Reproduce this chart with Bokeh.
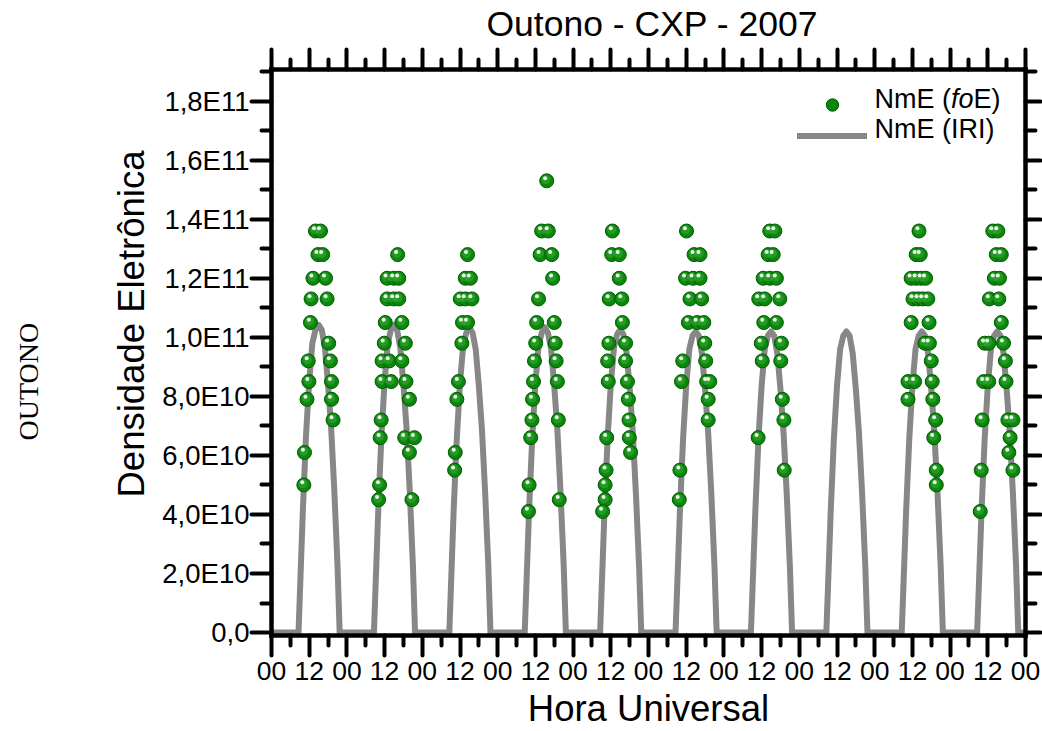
from bokeh.plotting import figure
from bokeh.models import (Range1d, FixedTicker, LinearAxis, Label, Legend, LegendItem,
                          ColumnDataSource, Title)
from bokeh.transform import dodge
from bokeh.embed import file_html
from bokeh.resources import INLINE

# ---------------- data (NmE in units of 1E10 el/m3, time in UT hours) ----------------
n_days = 10
x_tick_values = list(range(0, 241, 12))
x_tick_labels = ["00", "12"] * 10 + ["00"]
x_minor_ticks = list(range(6, 240, 12))
y_tick_values = [0, 2, 4, 6, 8, 10, 12, 14, 16, 18]
y_tick_labels = ["0,0", "2,0E10", "4,0E10", "6,0E10", "8,0E10",
                 "1,0E11", "1,2E11", "1,4E11", "1,6E11", "1,8E11"]
y_minor_ticks = [1, 3, 5, 7, 9, 11, 13, 15, 17, 19]

# NmE (foE) observations, per day: UT hour and value
foe_ut = [
    [14.0, 15.6, 14.8, 16.3, 13.2, 17.2, 12.6, 17.7, 12.4, 18.2, 11.7, 18.75, 11.9, 19.1, 11.3, 19.1, 19.6, 10.5, 10.3],
    [16.15, 12.8, 14.9, 16.5, 12.8, 14.9, 16.5, 12.2, 17.5, 11.9, 18.6, 11.2, 13.5, 17.5, 11.2, 14.1, 18.8, 19.9, 10.9, 10.6, 18.4, 21.5, 19.9, 10.4, 10.1, 20.7],
    [14.4, 13.7, 15.3, 12.1, 13.7, 15.8, 12.8, 14.4, 12.6, 11.5, 11.0, 10.5, 10.3],
    [15.6, 14.0, 16.1, 13.5, 17.2, 17.5, 13.0, 12.4, 18.0, 12.1, 18.3, 11.7, 18.6, 11.4, 19.0, 11.1, 10.9, 19.3, 10.5, 10.0, 19.6, 9.8],
    [12.5, 12.3, 14.7, 14.7, 11.5, 15.5, 15.7, 11.4, 16.7, 11.0, 16.7, 11.2, 17.3, 17.6, 17.8, 10.7, 17.9, 18.3, 10.5, 10.2, 10.2, 9.4],
    [12.1, 14.5, 16.4, 11.8, 14.2, 16.4, 13.2, 16.9, 12.7, 15.5, 17.6, 17.9, 10.9, 18.2, 10.5, 18.5, 19.5, 19.0, 19.0, 10.0, 9.8],
    [14.6, 16.2, 14.1, 15.7, 12.5, 14.6, 16.7, 11.1, 13.0, 17.8, 12.7, 16.7, 11.9, 18.3, 12.2, 18.1, 18.6, 19.1, 10.9, 19.2],
    [],
    [14.1, 13.2, 14.5, 11.6, 13.2, 14.8, 16.2, 12.2, 13.8, 15.3, 16.9, 11.6, 17.3, 16.0, 17.4, 18.0, 10.6, 12.7, 18.3, 10.6, 18.5, 19.4, 18.8, 19.6, 19.6],
    [13.6, 15.2, 14.7, 16.3, 14.1, 15.7, 12.5, 15.5, 16.3, 11.0, 12.3, 17.0, 17.6, 10.7, 12.3, 17.8, 10.2, 18.4, 20.0, 19.1, 18.7, 9.9, 20.0, 9.6],
]
foe_nme = [
    [13.6, 13.6, 12.8, 12.8, 12.0, 12.0, 11.3, 11.3, 10.5, 9.8, 9.2, 9.2, 8.5, 8.5, 7.9, 7.9, 7.2, 6.1, 5.0],
    [12.8, 12.0, 12.0, 12.0, 11.3, 11.3, 11.3, 10.5, 10.5, 9.8, 9.8, 9.2, 9.2, 9.2, 8.5, 8.5, 8.5, 7.9, 7.2, 6.6, 6.6, 6.6, 6.1, 5.0, 4.5, 4.5],
    [12.8, 12.0, 12.0, 11.3, 11.3, 11.3, 10.5, 10.5, 9.8, 8.5, 7.9, 6.1, 5.5],
    [15.3, 13.6, 13.6, 12.8, 12.8, 12.0, 11.3, 10.5, 10.5, 9.8, 9.8, 9.2, 9.2, 8.5, 8.5, 7.9, 7.2, 7.2, 6.6, 5.0, 4.5, 4.1],
    [13.6, 12.8, 12.8, 12.0, 11.3, 11.3, 10.5, 9.8, 9.8, 9.2, 9.2, 8.5, 8.5, 7.9, 7.2, 6.6, 6.6, 6.1, 5.5, 5.0, 4.5, 4.1],
    [13.6, 12.8, 12.8, 12.0, 12.0, 12.0, 11.3, 11.3, 10.5, 10.5, 10.5, 9.8, 9.2, 9.2, 8.5, 8.5, 8.5, 7.9, 7.2, 5.5, 4.5],
    [13.6, 13.6, 12.8, 12.8, 12.0, 12.0, 12.0, 11.3, 11.3, 11.3, 10.5, 10.5, 9.8, 9.8, 9.2, 9.2, 7.9, 7.2, 6.6, 5.5],
    [],
    [13.6, 12.8, 12.8, 12.0, 12.0, 12.0, 12.0, 11.3, 11.3, 11.3, 11.3, 10.5, 10.5, 9.8, 9.8, 9.2, 8.5, 8.5, 8.5, 7.9, 7.9, 7.2, 6.6, 5.5, 5.0],
    [13.6, 13.6, 12.8, 12.8, 12.0, 12.0, 11.3, 11.3, 10.5, 9.8, 9.8, 9.8, 9.2, 8.5, 8.5, 8.5, 7.2, 7.2, 7.2, 6.6, 6.1, 5.5, 5.5, 4.1],
]

# NmE (IRI) daily profile, read at these UT hours for each day
iri_ut = [8.6, 9, 10, 11, 12, 13, 14, 15, 16, 17, 18, 19, 20, 21, 21.7]
iri_nme = [
    [0, 1.2, 4.2, 6.7, 8.5, 9.8, 10.25, 10.42, 10.25, 9.65, 8.4, 6.9, 4.8, 2.3, 0],
    [0, 1.2, 4.2, 6.7, 8.5, 9.8, 10.25, 10.42, 10.25, 9.65, 8.4, 6.9, 4.8, 2.3, 0],
    [0, 1.2, 4.2, 6.6, 8.45, 9.7, 10.15, 10.34, 10.15, 9.6, 8.35, 6.85, 4.75, 2.3, 0],
    [0, 1.2, 4.2, 6.6, 8.45, 9.7, 10.15, 10.34, 10.15, 9.6, 8.35, 6.85, 4.75, 2.3, 0],
    [0, 1.2, 4.15, 6.6, 8.4, 9.65, 10.1, 10.26, 10.1, 9.5, 8.3, 6.8, 4.7, 2.25, 0],
    [0, 1.15, 4.1, 6.55, 8.35, 9.6, 10.05, 10.2, 10.05, 9.45, 8.25, 6.75, 4.7, 2.25, 0],
    [0, 1.15, 4.1, 6.55, 8.35, 9.6, 10.05, 10.2, 10.05, 9.45, 8.25, 6.75, 4.7, 2.25, 0],
    [0, 1.15, 4.1, 6.55, 8.35, 9.6, 10.05, 10.2, 10.05, 9.45, 8.25, 6.75, 4.7, 2.25, 0],
    [0, 1.15, 4.1, 6.55, 8.35, 9.6, 10.05, 10.2, 10.05, 9.45, 8.25, 6.75, 4.7, 2.25, 0],
    [0, 1.15, 4.1, 6.55, 8.35, 9.6, 10.05, 10.2, 10.05, 9.45, 8.25, 6.75, 4.7, 2.25, 0],
]

# ---------------- build sources ----------------
fx, fy = [], []
for d in range(n_days):
    for h, v in zip(foe_ut[d], foe_nme[d]):
        fx.append(24 * d + h)
        fy.append(v)
foe_src = ColumnDataSource(dict(x=fx, y=fy))

ix, iy = [0.0], [0.0]
for d in range(n_days):
    for h, v in zip(iri_ut, iri_nme[d]):
        ix.append(24 * d + h)
        iy.append(v)
ix.append(24.0 * n_days)
iy.append(0.0)
iri_src = ColumnDataSource(dict(x=ix, y=iy))

# ---------------- figure ----------------
FONT = "Liberation Sans"
p = figure(width=1042, height=731,
           x_range=Range1d(0, 240), y_range=Range1d(-0.1, 19.07),
           output_backend="svg", toolbar_location=None,
           title="Outono - CXP - 2007",
           min_border_left=271, min_border_right=17, min_border_top=68, min_border_bottom=96)
p.xgrid.visible = False
p.ygrid.visible = False
p.outline_line_color = None
p.background_fill_color = "white"
p.border_fill_color = "white"

p.title.align = "left"
p.title.offset = 215
p.title.vertical_align = "top"
p.title.standoff = 7
p.title.text_font = FONT
p.title.text_font_size = "35.5px"
p.title.text_font_style = "normal"
p.title.text_color = "black"

xticker = FixedTicker(ticks=x_tick_values, minor_ticks=x_minor_ticks)
yticker = FixedTicker(ticks=y_tick_values, minor_ticks=y_minor_ticks)


def style_axis(ax, major_out=20, minor_out=10):
    ax.axis_line_width = 4.5
    ax.axis_line_color = "black"
    ax.axis_line_cap = "square"
    ax.major_tick_line_width = 4
    ax.minor_tick_line_width = 4
    ax.major_tick_line_color = "black"
    ax.minor_tick_line_color = "black"
    ax.major_tick_line_cap = "round"
    ax.minor_tick_line_cap = "round"
    ax.major_tick_in = 0
    ax.minor_tick_in = 0
    ax.major_tick_out = major_out
    ax.minor_tick_out = minor_out
    ax.major_label_text_color = "black"
    ax.major_label_text_font = FONT


xa = p.xaxis[0]
xa.ticker = xticker
style_axis(xa)
xa.major_label_overrides = {t: s for t, s in zip(x_tick_values, x_tick_labels)}
xa.major_label_text_font_size = "26.5px"
xa.major_label_standoff = 6
xa.axis_label = "Hora Universal"
xa.axis_label_text_font = FONT
xa.axis_label_text_font_size = "36.5px"
xa.axis_label_text_font_style = "normal"
xa.axis_label_text_color = "black"
xa.axis_label_standoff = 5

ya = p.yaxis[0]
ya.ticker = yticker
style_axis(ya)
ya.major_label_overrides = {t: s for t, s in zip(y_tick_values, y_tick_labels)}
ya.major_label_text_font_size = "27.5px"
ya.major_label_standoff = 2

top = LinearAxis(ticker=xticker)
style_axis(top)
top.major_label_text_font_size = "1px"
top.major_label_text_color = None
top.major_label_standoff = 0
p.add_layout(top, "above")

right = LinearAxis(ticker=yticker)
style_axis(right, major_out=15, minor_out=10)
right.major_label_text_font_size = "1px"
right.major_label_text_color = None
right.major_label_standoff = 0
p.add_layout(right, "right")

# side titles (y label and season tag), with a blank spacer axis between them
p.add_layout(Title(text="Densidade Eletrônica", align="left", offset=138, standoff=16,
                   vertical_align="bottom",
                   text_font=FONT, text_font_size="36.5px", text_font_style="normal",
                   text_color="black"), "left")
spacer = LinearAxis(ticker=FixedTicker(ticks=[0], minor_ticks=[]), axis_line_color="white",
                    axis_line_width=1,
                    major_tick_out=52, major_tick_in=0, minor_tick_out=0, minor_tick_in=0,
                    major_tick_line_color="white", major_tick_line_width=1,
                    minor_tick_line_color="white",
                    major_label_standoff=0, major_label_text_font_size="1px",
                    major_label_text_color=None)
p.add_layout(spacer, "left")
p.add_layout(Title(text="OUTONO", align="left", offset=195, standoff=10,
                   vertical_align="bottom",
                   text_font="Liberation Serif", text_font_size="28px",
                   text_font_style="normal", text_color="black"), "left")

# ---------------- glyphs ----------------
r_iri = p.line("x", "y", source=iri_src, line_color="#878787", line_width=6,
               line_join="round", line_cap="round")

r_foe = p.scatter("x", "y", source=foe_src, size=14, fill_color="#0b870b",
                  line_color="#005a00", line_width=1)
p.scatter(dodge("x", -0.25), dodge("y", 0.04), source=foe_src, size=9,
          fill_color="#35a835", fill_alpha=0.6, line_color=None)
p.scatter(dodge("x", -0.5), dodge("y", 0.09), source=foe_src, size=4,
          fill_color="white", fill_alpha=0.9, line_color=None)

# ---------------- legend ----------------
legend = Legend(items=[LegendItem(label=" ", renderers=[r_foe]),
                       LegendItem(label=" ", renderers=[r_iri])],
                location=(526, 484), glyph_width=70, glyph_height=31, spacing=0,
                padding=0, margin=0, label_standoff=0, label_width=0, label_height=31,
                label_text_font_size="1px", label_text_color=None,
                border_line_color=None, background_fill_alpha=0)
p.add_layout(legend)

LEG = "27px"
p.add_layout(Label(x=603, y=521.7, x_units="screen", y_units="screen", text="NmE (",
                   text_font=FONT, text_font_size=LEG, text_color="black"))
p.add_layout(Label(x=603 + 76.5, y=521.7, x_units="screen", y_units="screen", text="fo",
                   text_font=FONT, text_font_size=LEG, text_font_style="italic",
                   text_color="black"))
p.add_layout(Label(x=603 + 99.0, y=521.7, x_units="screen", y_units="screen", text="E)",
                   text_font=FONT, text_font_size=LEG, text_color="black"))
p.add_layout(Label(x=603, y=491.7, x_units="screen", y_units="screen", text="NmE (IRI)",
                   text_font=FONT, text_font_size=LEG, text_color="black"))

open("out.html", "w").write(file_html(p, INLINE))
